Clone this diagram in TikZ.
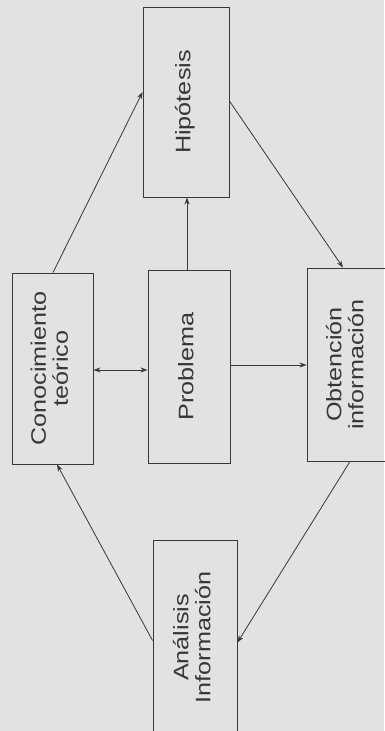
\documentclass[tikz,border=0pt]{standalone}
\usepackage{fontspec}
\setmainfont{Liberation Sans}
\usetikzlibrary{arrows.meta}
\definecolor{paper}{RGB}{226,226,229}
\definecolor{ink}{RGB}{55,55,58}
\newcommand{\vtext}[1]{\rotatebox{90}{\scalebox{1.2}[1]{\fontsize{21}{22}\selectfont\begin{tabular}{@{}c@{}}#1\end{tabular}}}}
\begin{document}
\begin{tikzpicture}[x=1pt,y=-1pt,
  box/.style={draw=ink, line width=0.9pt, inner sep=0pt, text=ink},
  conn/.style={draw=ink, line width=0.8pt, -{Stealth[length=7pt,width=5pt]}},
  conn2/.style={draw=ink, line width=0.8pt, {Stealth[length=7pt,width=5pt]}-{Stealth[length=7pt,width=5pt]}}]
\fill[paper] (0,0) rectangle (384,731);
\useasboundingbox (0,0) rectangle (384,731);
\node[box, minimum width=86pt, minimum height=190pt] (hip) at (186,102) {\vtext{Hipótesis}};
\node[box, minimum width=81pt, minimum height=191pt] (con) at (52.5,368.5) {\vtext{Conocimiento\\teórico}};
\node[box, minimum width=82pt, minimum height=193pt] (prob) at (189,366.5) {\vtext{Problema}};
\node[box, minimum width=82pt, minimum height=193pt] (obt) at (348,364.5) {\vtext{Obtención\\información}};
\node[box, minimum width=84pt, minimum height=195pt] (ana) at (195,637.5) {\vtext{Análisis\\Información}};
\draw[conn] ([xshift=0.5pt]con.north) -- ([yshift=10pt]hip.west);
\draw[conn] ([yshift=1pt]hip.east) -- ([xshift=-5pt]obt.north);
\draw[conn] ([xshift=-2pt]prob.north) -- ([xshift=-2pt]prob.north |- hip.south);
\draw[conn2] ([yshift=-1.5pt]con.east) -- ([yshift=-1.5pt]con.east -| prob.west);
\draw[conn] ([yshift=1.5pt]prob.east) -- ([yshift=1.5pt]prob.east -| obt.west);
\draw[conn] ([xshift=2pt]obt.south) -- ([yshift=-5pt]ana.east);
\draw[conn] ([yshift=-3pt]ana.west) -- ([xshift=4.5pt]con.south);
\end{tikzpicture}
\end{document}
